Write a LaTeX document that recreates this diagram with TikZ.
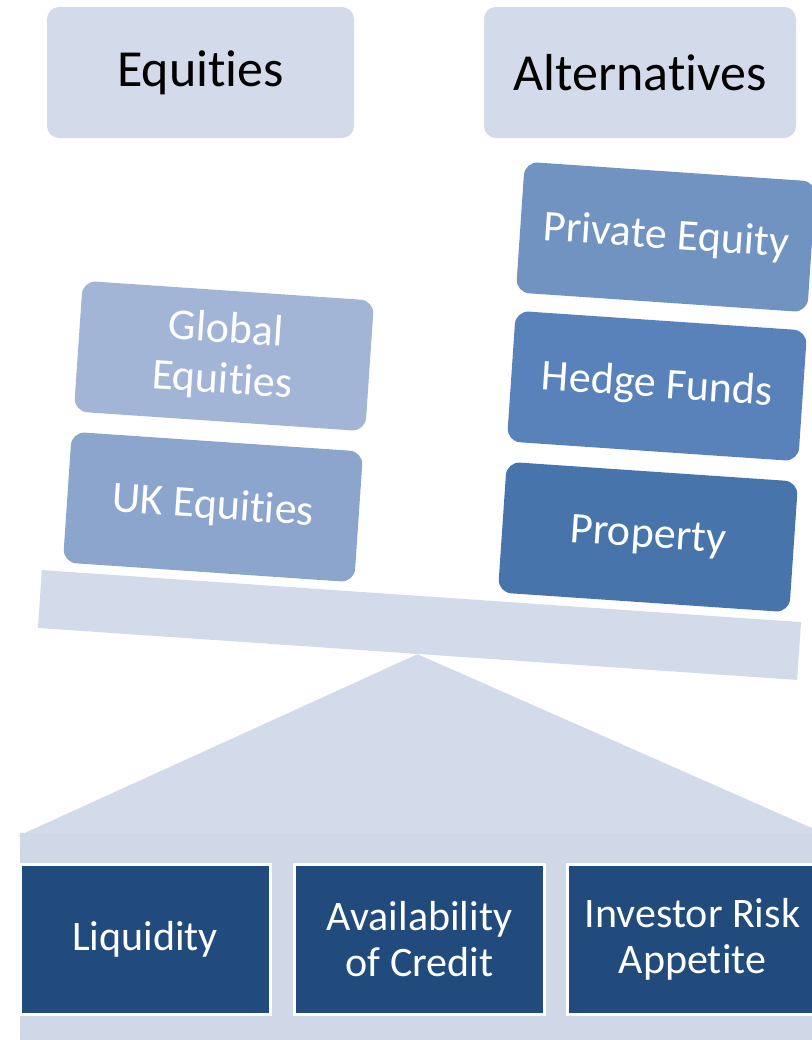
\documentclass[tikz,border=0pt]{standalone}
\usepackage{fontspec}
\setmainfont{Carlito}[Ligatures={NoCommon,NoRare,NoContextual,NoRequired}]
\newcommand\tisep{\kern0pt }
\definecolor{lightc}{HTML}{D3DAE9}
\definecolor{basec}{HTML}{D0D8E8}
\definecolor{globalc}{HTML}{A3B5D7}
\definecolor{ukc}{HTML}{8CA5CC}
\definecolor{pec}{HTML}{7193C2}
\definecolor{hedgec}{HTML}{5982BA}
\definecolor{propc}{HTML}{4774AB}
\definecolor{darkc}{HTML}{214A7D}
\begin{document}
\begin{tikzpicture}[x=0.75pt,y=-0.75pt,
  light/.style={fill=lightc, draw=none},
  topbox/.style={light, rounded corners=9pt, minimum height=98.25pt, inner sep=0pt,
    font=\fontsize{39}{46}\selectfont, text=black},
  block/.style={rounded corners=10pt, minimum width=219pt, minimum height=98.25pt,
    rotate=-3.9, text=white, align=center, inner sep=0pt,
    font=\fontsize{33}{38}\selectfont},
  factor/.style={fill=darkc, draw=white, line width=2.25pt, minimum width=187.5pt,
    minimum height=112.5pt, text=white, align=center, inner sep=0pt,
    font=\fontsize{31.5}{34.5}\selectfont}]
\useasboundingbox (0,0) rectangle (812,1040);
\clip (0,0) rectangle (812,1040);

% top labels
\node[topbox, minimum width=230.25pt] (equities) at (200.5,72.5) {Equit\tisep ies};
\node[topbox, minimum width=234pt] (alternatives) at (640,72.5) {Alternat\tisep ives};

% beam
\node[light, rotate=-3.92, minimum width=570.75pt, minimum height=43.5pt, inner sep=0pt] (beam) at (419.5,625) {};

% fulcrum
\fill[lightc] (beam.south) -- (830,836) -- (18,836) -- cycle;
\fill[basec] (20,833) rectangle (830,1040);

% blocks on the left
\node[block, fill=ukc] (uk) at (213,507) {UK Equit\tisep ies};
\node[block, fill=globalc] (global) at (224,356) {Global\\Equit\tisep ies};

% blocks on the right
\node[block, fill=propc] (property) at (648,537) {Property};
\node[block, fill=hedgec] (hedge) at (657,386) {Hedge Funds};
\node[block, fill=pec] (pe) at (666,237) {Private Equity};

% factors
\node[factor] (liquidity) at (145,939.5) {Liquidity};
\node[factor] (credit) at (419.5,939.5) {Availability\\of Credit};
\node[factor] (risk) at (692.5,939.5) {Investor Risk\\Appet\tisep ite};
\end{tikzpicture}
\end{document}
